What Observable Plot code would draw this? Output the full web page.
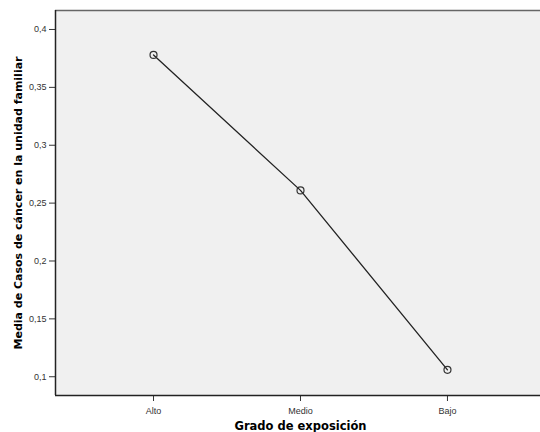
<!DOCTYPE html>
<html>
<head>
<meta charset="utf-8">
<script src="https://cdn.jsdelivr.net/npm/d3@7"></script>
<script src="https://cdn.jsdelivr.net/npm/@observablehq/plot@0.6"></script>
<style>
  html, body { margin: 0; padding: 0; background: #fff; }
</style>
</head>
<body>
<div id="chart"></div>
<script>
const categories = ["Alto", "Medio", "Bajo"];
const means = [0.378, 0.261, 0.106];
const yTicks = [0.1, 0.15, 0.2, 0.25, 0.3, 0.35, 0.4];
const xTitle = "Grado de exposición";
const yTitle = "Media de Casos de cáncer en la unidad familiar";

const data = categories.map((c, i) => ({i, cat: c, mean: means[i]}));
const xDomain = [-0.667, 2.633];
const yDomain = [0.0838, 0.4164];

const chart = Plot.plot({
  width: 540,
  height: 432,
  marginLeft: 55,
  marginRight: 0,
  marginTop: 10,
  marginBottom: 37,
  style: {fontFamily: "'Liberation Sans', Arial, sans-serif", fontSize: "9px", color: "#333", background: "#fff"},
  x: {type: "linear", domain: xDomain, ticks: [0, 1, 2], tickFormat: i => categories[i], tickSize: 6, tickPadding: 6, label: null},
  y: {domain: yDomain, ticks: yTicks, tickFormat: d => String(d).replace(".", ","), tickSize: 6, tickPadding: 3, label: null},
  marks: [
    Plot.frame({fill: "#f0f0f0", stroke: null}),
    Plot.ruleY([yDomain[1]], {stroke: "#666", strokeWidth: 1.5}),
    Plot.ruleY([yDomain[0]], {stroke: "#222", strokeWidth: 1.5}),
    Plot.ruleX([xDomain[0]], {stroke: "#222", strokeWidth: 1.5}),
    Plot.line(data, {x: "i", y: "mean", stroke: "#222", strokeWidth: 1.3}),
    Plot.dot(data, {x: "i", y: "mean", r: 3.5, stroke: "#333", strokeWidth: 1.2, fill: "none"}),
    Plot.text([xTitle], {frameAnchor: "bottom", dy: 34.5, dx: 2.5, textAnchor: "middle", lineAnchor: "bottom", fontFamily: "'DejaVu Sans', sans-serif", fontWeight: "bold", fontSize: 11.5, fill: "#000"}),
    Plot.text([yTitle], {frameAnchor: "left", dx: -33.3, rotate: -90, textAnchor: "middle", lineAnchor: "bottom", fontFamily: "'DejaVu Sans', sans-serif", fontWeight: "bold", fontSize: 11, fill: "#000"})
  ]
});
document.getElementById("chart").appendChild(chart);
</script>
</body>
</html>
